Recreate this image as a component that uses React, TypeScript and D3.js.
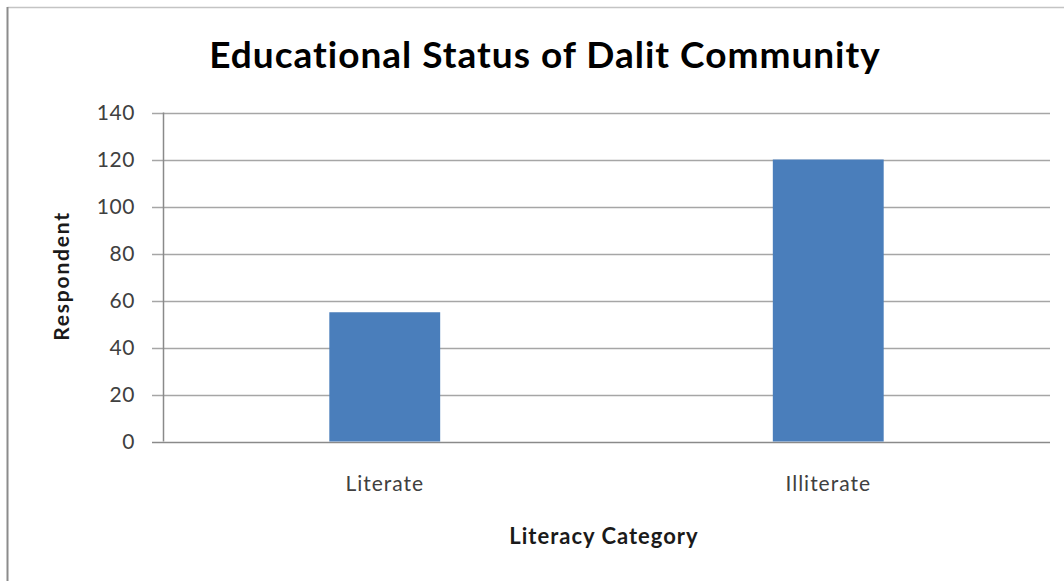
import React, { useEffect, useRef } from "react";
import * as d3 from "d3";

const categories = ["Literate", "Illiterate"];
const values = [55, 120];
const yTicks = [0, 20, 40, 60, 80, 100, 120, 140];
const title = "Educational Status of Dalit Community";
const xTitle = "Literacy Category";
const yTitle = "Respondent";

const W = 1064;
const H = 581;

export default function App() {
  const ref = useRef<SVGSVGElement>(null);

  useEffect(() => {
    const svg = d3.select(ref.current);
    svg.selectAll("*").remove();

    const left = 163, right = 1050, top = 112.5, bottom = 441.5;
    const font = "Lato, 'Open Sans', sans-serif";

    const x = d3.scaleBand<string>().domain(categories).range([left, right]).paddingInner(0.75).paddingOuter(0.375);
    const y = d3.scaleLinear().domain([0, 140]).range([bottom, top]);

    svg.append("rect").attr("x", 0).attr("y", 0).attr("width", W).attr("height", H).attr("fill", "#fff");

    // outer frame (left and top only)
    svg.append("line").attr("x1", 7.5).attr("x2", W).attr("y1", 7.5).attr("y2", 7.5).attr("stroke", "#c4c4c4").attr("stroke-width", 1.5);
    svg.append("line").attr("x1", 7.5).attr("x2", 7.5).attr("y1", 7).attr("y2", H).attr("stroke", "#8c8c8c").attr("stroke-width", 2);

    // gridlines + tick marks
    svg.append("g").selectAll("line").data(yTicks).join("line")
      .attr("x1", 152).attr("x2", right)
      .attr("y1", (d) => Math.round(y(d)) + 0.5).attr("y2", (d) => Math.round(y(d)) + 0.5)
      .attr("stroke", (d) => (d === 0 ? "#8a8a8a" : "#a6a6a6")).attr("stroke-width", 1.5);

    // y axis line
    svg.append("line").attr("x1", left + 0.5).attr("x2", left + 0.5).attr("y1", y(140)).attr("y2", y(0))
      .attr("stroke", "#8a8a8a").attr("stroke-width", 1.5);

    // y tick labels
    svg.append("g").selectAll("text").data(yTicks).join("text")
      .attr("x", 135).attr("y", (d) => y(d)).attr("dy", "0.36em")
      .attr("text-anchor", "end").attr("font-family", font).attr("font-size", 21).attr("letter-spacing", 0.6).attr("fill", "#404040")
      .text((d) => String(d));

    // bars
    svg.append("g").selectAll("rect").data(values).join("rect")
      .attr("x", (_d, i) => x(categories[i])!).attr("width", x.bandwidth())
      .attr("y", (d) => y(d)).attr("height", (d) => y(0) - y(d))
      .attr("fill", "#4a7ebb");

    // category labels
    svg.append("g").selectAll("text").data(categories).join("text")
      .attr("x", (d) => x(d)! + x.bandwidth() / 2).attr("y", 491)
      .attr("text-anchor", "middle").attr("font-family", font).attr("font-size", 21).attr("letter-spacing", 1).attr("fill", "#404040")
      .text((d) => d);

    // titles
    svg.append("text").attr("x", 545).attr("y", 68).attr("text-anchor", "middle")
      .attr("font-family", font).attr("font-weight", "bold").attr("font-size", 37).attr("letter-spacing", 1).attr("fill", "#000")
      .text(title);
    svg.append("text").attr("x", 604).attr("y", 544).attr("text-anchor", "middle")
      .attr("font-family", font).attr("font-weight", "bold").attr("font-size", 22).attr("letter-spacing", 1).attr("fill", "#1a1a1a")
      .text(xTitle);
    svg.append("text").attr("transform", `translate(69, 276) rotate(-90)`).attr("text-anchor", "middle")
      .attr("font-family", font).attr("font-weight", "bold").attr("font-size", 21).attr("letter-spacing", 1.8).attr("fill", "#1a1a1a")
      .text(yTitle);
  }, []);

  return (
    <svg ref={ref} width={W} height={H} style={{ position: "absolute", left: 0, top: 0, display: "block" }} />
  );
}
